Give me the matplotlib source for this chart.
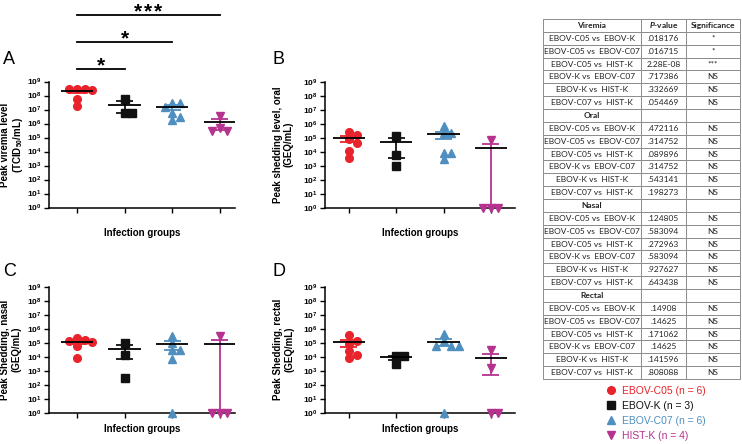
import numpy as np
import matplotlib
matplotlib.use('Agg')
import matplotlib.pyplot as plt
from matplotlib.lines import Line2D
from matplotlib.ticker import NullLocator
from matplotlib.transforms import offset_copy

plt.rcParams['font.family'] = ['Liberation Sans', 'DejaVu Sans']
plt.rcParams['mathtext.fontset'] = 'custom'
plt.rcParams['mathtext.rm'] = 'Liberation Sans'
plt.rcParams['mathtext.bf'] = 'Liberation Sans:bold'
plt.rcParams['mathtext.it'] = 'Lato:italic:bold'

W, H = 742, 444

groups = ['EBOV-C05', 'EBOV-K', 'EBOV-C07', 'HIST-K']
group_n = [6, 3, 6, 4]
colours = ['#e8232b', '#111111', '#4f8fbf', '#b5338f']
markers = ['o', 's', '^', 'v']

# log10 values (0 means the point sits on the 10^0 axis)
viremia = [[8.45, 8.48, 8.45, 8.42, 7.75, 7.25], [7.75, 6.74, 6.72],
           [7.49, 7.49, 7.2, 6.73, 6.44, 6.25], [6.56, 5.7, 5.48, 5.45]]
oral = [[5.43, 5.19, 4.9, 4.64, 4.05, 3.53], [5.12, 3.76, 2.98],
        [5.8, 5.3, 5.3, 3.93, 3.93, 3.46], [4.84, 0, 0, 0]]
nasal = [[5.35, 5.2, 5.1, 5.05, 4.75, 3.88], [5.0, 4.12, 2.46],
         [5.48, 4.96, 4.48, 4.48, 3.81, 0], [5.5, 0, 0, 0]]
rectal = [[5.55, 5.14, 4.91, 4.41, 4.12, 3.93], [4.07, 4.07, 3.48],
          [5.62, 5.14, 4.76, 4.76, 4.76, 0], [4.48, 3.17, 0, 0]]

ylabels = ['Peak viremia level\n(TCID$_{\\mathbf{50}}$/mL)',
           'Peak shedding level, oral\n(GEQ/mL)',
           'Peak Shedding, nasal\n(GEQ/mL)',
           'Peak Shedding, rectal\n(GEQ/mL)']
letters = ['A', 'B', 'C', 'D']

# significance bars on panel A: (from group, to group, number of stars)
sig_bars = [(0, 1, 1), (0, 2, 1), (0, 3, 3)]

comparisons = ['EBOV-C05 vs  EBOV-K', 'EBOV-C05 vs  EBOV-C07', 'EBOV-C05 vs  HIST-K',
               'EBOV-K vs  EBOV-C07', 'EBOV-K vs  HIST-K', 'EBOV-C07 vs  HIST-K']
sections = ['Viremia', 'Oral', 'Nasal', 'Rectal']
p_values = [['.018176', '.016715', '2.28E-08', '.717386', '.332669', '.054469'],
            ['.472116', '.314752', '.089896', '.314752', '.543141', '.198273'],
            ['.124805', '.583094', '.272963', '.583094', '.927627', '.643438'],
            ['.14908', '.14625', '.171062', '.14625', '.141596', '.808088']]
significance = [['*', '*', '***', 'NS', 'NS', 'NS'],
                ['NS'] * 6, ['NS'] * 6, ['NS'] * 6]


def px_axes(l, t, r, b):
    return [l / W, 1 - b / H, (r - l) / W, (b - t) / H]


def swarm(vals, step=0.16, px_x=47.5, px_y=14.0, size=6.5):
    # simple column scatter: push overlapping points sideways
    vals = np.asarray(vals, float)
    offs = np.zeros(len(vals))
    placed = []
    for i in np.argsort(-vals, kind='stable'):
        for k in [0, 1, -1, 2, -2, 3, -3]:
            dx = k * step
            if all(np.hypot((dx - ox) * px_x, (vals[i] - oy) * px_y) >= size for ox, oy in placed):
                break
        placed.append((dx, vals[i]))
        offs[i] = dx
    return offs


fig = plt.figure(figsize=(W / 100, H / 100), dpi=100)

boxes = [(49, 81.5, 235, 207.5), (325, 81.7, 515, 207.7),
         (49, 286.7, 235, 412.7), (325, 286.7, 515, 412.7)]
xlims = [(-0.588, 3.32), (-0.507, 3.51), (-0.588, 3.32), (-0.507, 3.51)]
letter_pos = [(3, 60), (273, 60), (3, 272), (273, 272)]
ylabel_x = [-0.197, -0.22, -0.205, -0.218]
xlabel_y = [-0.2, -0.2, -0.132, -0.132]

axes = []
for p, data in enumerate([viremia, oral, nasal, rectal]):
    ax = fig.add_axes(px_axes(*boxes[p]))
    axes.append(ax)
    ax.set_yscale('log')
    ax.set_ylim(1, 1e9)
    ax.set_xlim(*xlims[p])
    for j, vals in enumerate(data):
        offs = swarm(vals)
        ax.plot(j + offs, 10.0 ** np.array(vals), ls='none', marker=markers[j],
                color=colours[j], ms=5.5, mec=colours[j], clip_on=False, zorder=3)
        lin = 10.0 ** np.array(vals)
        mean = lin.mean()
        sem = lin.std(ddof=1) / np.sqrt(len(lin))
        lo = mean - sem
        ax.vlines(j, max(lo, 1), mean + sem, color=colours[j], lw=1.3, zorder=4)
        ax.hlines(mean + sem, j - 0.18, j + 0.18, color=colours[j], lw=1.3, zorder=4)
        if lo > 1:
            ax.hlines(lo, j - 0.18, j + 0.18, color=colours[j], lw=1.3, zorder=4)
        ax.hlines(mean, j - 0.34, j + 0.34, color='black', lw=1.3, zorder=5)

    ax.set_yticks(10.0 ** np.arange(10))
    ax.set_yticklabels([r'$\mathbf{10^{%d}}$' % k for k in range(10)])
    ax.yaxis.set_minor_locator(NullLocator())
    ax.set_xticks(range(4))
    ax.set_xticklabels([])
    ax.tick_params(axis='both', length=3.5, width=1, labelsize=6, pad=2)
    for s in ['top', 'right']:
        ax.spines[s].set_visible(False)
    for s in ['left', 'bottom']:
        ax.spines[s].set_linewidth(1.1)
    ax.set_ylabel(ylabels[p], fontsize=7, fontweight='bold', va='center', linespacing=1.15)
    ax.yaxis.set_label_coords(ylabel_x[p], 0.5)
    ax.set_xlabel('Infection groups', fontsize=7, fontweight='bold', va='center')
    ax.xaxis.set_label_coords(0.5, xlabel_y[p])
    lx, ly = letter_pos[p]
    fig.text(lx / W, 1 - ly / H, letters[p], fontsize=13, va='center', ha='left')

# significance bars above panel A
axA = axes[0]
tr = axA.get_xaxis_transform()
bar_y = [1.099, 1.313, 1.528]
for (g0, g1, nstar), yb in zip(sig_bars, bar_y):
    axA.plot([g0, g1], [yb, yb], color='black', lw=1.3, transform=tr, clip_on=False)
    for k in range(nstar):
        dx = (k - (nstar - 1) / 2) * 10
        st = offset_copy(tr, fig=fig, x=dx * 0.72, y=0, units='points')
        axA.text((g0 + g1) / 2, yb - 0.02, '*', transform=st, ha='center', va='baseline',
                 fontsize=15, fontweight='bold')

# statistics table
tax = fig.add_axes(px_axes(543, 19, 740, 379))
tax.axis('off')
cells = []
header_rows = []
for s, sec in enumerate(sections):
    header_rows.append(len(cells))
    if s == 0:
        cells.append([sec, '$\\mathit{P}$-value', 'Significance'])
    else:
        cells.append([sec, '', ''])
    for c, pv, sg in zip(comparisons, p_values[s], significance[s]):
        cells.append([c, pv, sg])

tbl = tax.table(cellText=cells, colWidths=[0.497, 0.228, 0.275], cellLoc='center',
                bbox=[0, 0, 1, 1])
tbl.auto_set_font_size(False)
tbl.set_fontsize(6.0)
for (r, c), cell in tbl.get_celld().items():
    cell.set_edgecolor('#8c8c8c')
    cell.set_linewidth(0.7)
    txt = cell.get_text()
    txt.set_fontfamily('Lato')
    txt.set_color('#222222')
    if r in header_rows and (c == 0 or r == 0):
        txt.set_fontweight('bold')

# legend
handles = [Line2D([], [], ls='none', marker=m, color=c, ms=5.5) for m, c in zip(markers, colours)]
labels = [f'{g} (n = {n})' for g, n in zip(groups, group_n)]
fig.legend(handles, labels, loc='upper left', bbox_to_anchor=(607 / W, 1 - 386 / H),
           frameon=False, fontsize=7.5, handlelength=0.8, handletextpad=0.6,
           labelspacing=0.47, labelcolor='markerfacecolor', borderaxespad=0, borderpad=0)

fig.savefig('out.png', dpi=100)
